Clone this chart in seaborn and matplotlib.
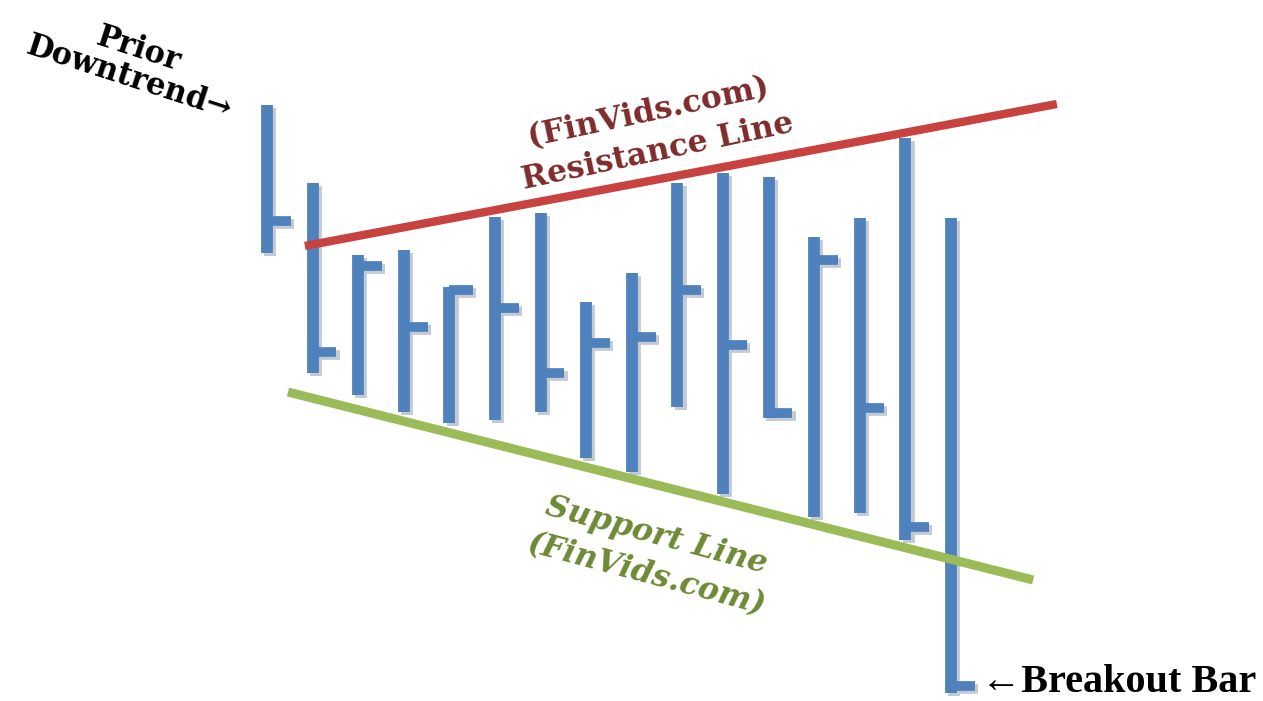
import numpy as np
import pandas as pd
import matplotlib
matplotlib.use("Agg")
import matplotlib.pyplot as plt
import seaborn as sns

# barras tipo OHLC (solo maximo, minimo y cierre) del patron de ensanchamiento
bars = np.arange(1, 17)
highs = [59.6, 51.8, 44.6, 45.1, 41.4, 48.4, 48.8, 39.9, 42.8, 51.8, 52.8, 52.4, 46.4, 48.3, 56.3, 48.3]
lows = [44.8, 32.8, 30.6, 28.9, 27.8, 28.1, 28.9, 24.3, 22.9, 29.4, 20.7, 28.3, 18.4, 18.8, 16.1, 0.8]
closes = [48.0, 34.9, 43.5, 37.4, 41.1, 39.3, 32.8, 35.8, 36.4, 41.1, 35.6, 28.8, 44.1, 29.3, 17.4, 1.5]

# lineas de tendencia (extremos)
resist_x = [1.83, 18.32]
resist_y = [45.5, 59.7]
support_x = [1.46, 17.8]
support_y = [30.9, 12.1]

sns.set_theme(style="white")
plt.rcParams['font.family'] = ['DejaVu Serif']

fig = plt.figure(figsize=(12.63, 7.01), dpi=100)
ax = fig.add_axes([0, 0, 1, 1])

blue = "#4F81BD"
shadow = "#C3CAD4"
dx = 0.07   # sombra ~3 px
dy = -0.25

# sombra de las barras
ax.vlines(bars + dx, np.array(lows) + dy, np.array(highs) + dy, color=shadow, lw=8.5, capstyle="butt", zorder=1)
ax.hlines(np.array(closes) + dy, bars + dx, bars + 0.52 + dx, color=shadow, lw=7, capstyle="butt", zorder=1)

# barras
ax.vlines(bars, lows, highs, color=blue, lw=8.5, capstyle="butt", zorder=2)
ax.hlines(closes, bars, bars + 0.52, color=blue, lw=7, capstyle="butt", zorder=2)

# resistencia y soporte
res = pd.DataFrame({"x": resist_x, "y": resist_y})
sup = pd.DataFrame({"x": support_x, "y": support_y})
sns.lineplot(data=res, x="x", y="y", ax=ax, color="#C8423F", lw=6, zorder=3, solid_capstyle="butt")
sns.lineplot(data=sup, x="x", y="y", ax=ax, color="#9BBB59", lw=6.5, zorder=3, solid_capstyle="butt")
ax.set_xlim(-4.855, 22.84)
ax.set_ylim(0, 70.1)
ax.axis("off")

# textos
ax.text(134 / 1263, 1 - 64 / 701, "Prior\nDowntrend\u2192", transform=ax.transAxes,
        rotation=-18, ha="center", va="center", rotation_mode="anchor",
        multialignment="center", linespacing=0.95, fontsize=22, fontweight="bold",
        color="black", zorder=4)
ax.text(653 / 1263, 1 - 132 / 701, "(FinVids.com)\nResistance Line", transform=ax.transAxes,
        rotation=12, ha="center", va="center", rotation_mode="anchor",
        multialignment="center", linespacing=1.4, fontsize=22.5, fontweight="bold",
        color="#7E2B2B", zorder=4)
ax.text(651 / 1263, 1 - 555 / 701, "Support Line\n(FinVids.com)", transform=ax.transAxes,
        rotation=-15, ha="center", va="center", rotation_mode="anchor",
        multialignment="center", linespacing=1.4, fontsize=22.5, fontweight="bold",
        fontstyle="italic", color="#6E8A35", zorder=4)
ax.text(981 / 1263, 1 - 683 / 701, "\u2190Breakout Bar", transform=ax.transAxes,
        ha="left", va="center", fontsize=29, fontweight="bold",
        family=["Liberation Serif", "DejaVu Serif"], color="black", zorder=4)

plt.savefig("out.png", dpi=100)
